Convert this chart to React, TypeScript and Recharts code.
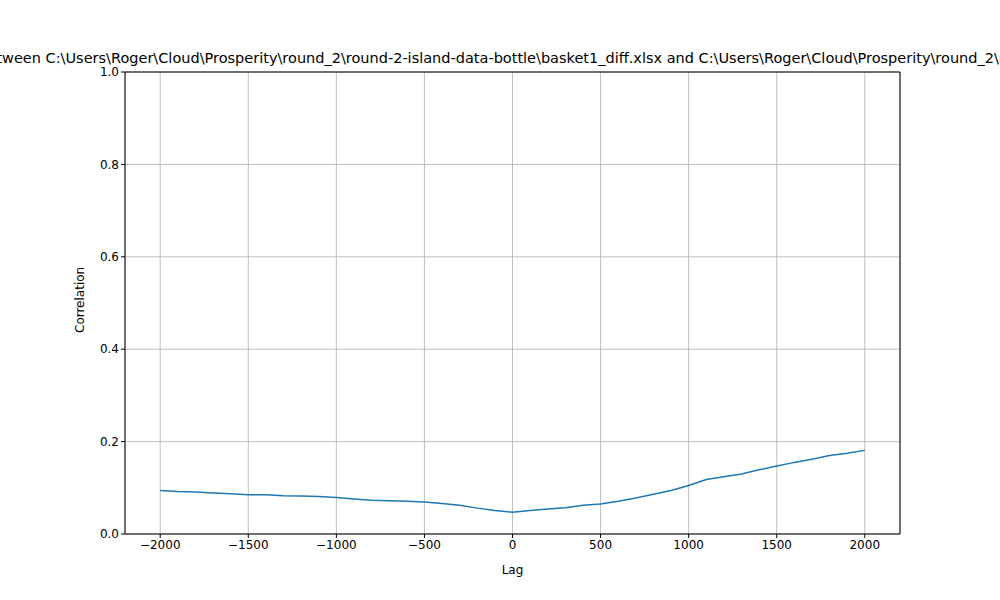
import React from 'react';
import { LineChart, Line, XAxis, YAxis, CartesianGrid, ReferenceLine } from 'recharts';

const lags = [-2000, -1900, -1800, -1700, -1600, -1500, -1400, -1300, -1200, -1100, -1000, -900, -800, -700, -600, -500, -400, -300, -200, -100, 0, 100, 200, 300, 400, 500, 600, 700, 800, 900, 1000, 1100, 1200, 1300, 1400, 1500, 1600, 1700, 1800, 1900, 2000];
const corr = [0.094, 0.092, 0.091, 0.089, 0.087, 0.085, 0.085, 0.083, 0.082, 0.081, 0.079, 0.076, 0.073, 0.072, 0.071, 0.069, 0.066, 0.062, 0.056, 0.051, 0.047, 0.051, 0.054, 0.057, 0.062, 0.065, 0.071, 0.078, 0.086, 0.094, 0.105, 0.118, 0.124, 0.130, 0.139, 0.147, 0.155, 0.162, 0.170, 0.175, 0.181];
const xTicks = [-2000, -1500, -1000, -500, 0, 500, 1000, 1500, 2000];
const yTicks = [0, 0.2, 0.4, 0.6, 0.8, 1.0];
const title = 'Cross-correlation between C:\\Users\\Roger\\Cloud\\Prosperity\\round_2\\round-2-island-data-bottle\\basket1_diff.xlsx and C:\\Users\\Roger\\Cloud\\Prosperity\\round_2\\round-2-island-data-bottle\\basket2_diff.xlsx';

const data = lags.map((lag, i) => ({ lag, corr: corr[i] }));
const fmt = (v: number) => String(v).replace('-', '\u2212');
const tick = { fill: '#000', fontSize: 12 };

export default function App() {
  return (
    <div style={{ position: 'absolute', left: 0, top: 0, width: 1000, height: 600, background: '#fff', fontFamily: 'DejaVu Sans' }}>
      <svg width={1000} height={72} style={{ position: 'absolute', left: 0, top: 0 }}>
        <text x={583} y={63} textAnchor="middle" fontSize={14.5} fill="#000">{title}</text>
      </svg>
      <LineChart width={1000} height={600} data={data} margin={{ top: 72, right: 100, bottom: 36, left: 0 }}>
        <CartesianGrid stroke="#b0b0b0" strokeWidth={0.8} />
        <XAxis dataKey="lag" type="number" domain={[-2200, 2200]} ticks={xTicks} tickFormatter={fmt}
          tick={tick} stroke="#000" tickSize={4} height={30}
          label={{ value: 'Lag', position: 'insideBottom', offset: -10, fill: '#000', fontSize: 12 }} />
        <YAxis type="number" domain={[0, 1]} ticks={yTicks} tickFormatter={(v: number) => v.toFixed(1)}
          tick={tick} stroke="#000" tickSize={4} width={125}
          label={{ value: 'Correlation', angle: -90, position: 'insideLeft', offset: 80, fill: '#000', fontSize: 12, dy: 30 }} />
        <ReferenceLine y={1} stroke="#000" />
        <ReferenceLine x={2200} stroke="#000" />
        <Line dataKey="corr" stroke="#1f77b4" strokeWidth={1.5} dot={false} isAnimationActive={false} type="linear" />
      </LineChart>
    </div>
  );
}
